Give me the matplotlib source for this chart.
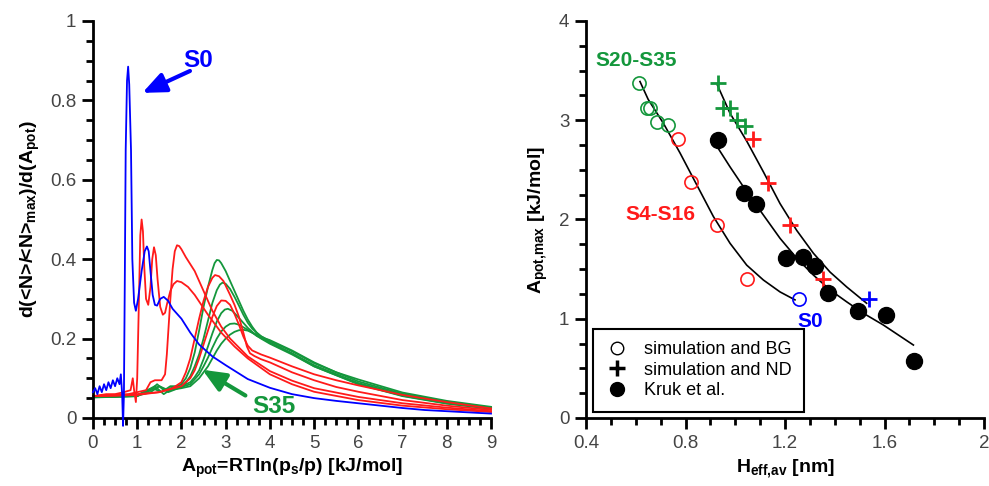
import matplotlib
matplotlib.use('Agg')
import matplotlib.pyplot as plt
from matplotlib.lines import Line2D
from matplotlib.ticker import MultipleLocator, FuncFormatter

plt.rcParams['font.family'] = ['Liberation Sans', 'DejaVu Sans']
plt.rcParams['mathtext.default'] = 'regular'

BLUE = '#0000ff'
RED = '#ff1a1a'
GREEN = '#14973c'
TICKC = '#444444'

# ---- left panel: d(<N>/<N>max)/d(Apot) vs Apot ----
s0_x = [0.0, 0.05, 0.1, 0.15, 0.2, 0.25, 0.3, 0.35, 0.4, 0.45, 0.5, 0.55, 0.6, 0.63, 0.66, 0.68, 0.7,
        0.72, 0.74, 0.77, 0.795, 0.82, 0.86, 0.89, 0.93, 0.97, 1.02, 1.1, 1.17, 1.22, 1.26, 1.3, 1.35, 1.4,
        1.45, 1.52, 1.6, 1.7, 1.8, 2.0, 2.2, 2.4, 2.7, 3.0, 3.5, 4.0, 4.5, 5.0, 5.5, 6.0, 6.5, 7.0, 7.5, 8.0,
        8.5, 9.0]
s0_y = [0.065, 0.075, 0.06, 0.08, 0.065, 0.085, 0.07, 0.09, 0.075, 0.095, 0.08, 0.1, 0.085, 0.11, 0.06, -0.02, 0.06,
        0.35, 0.675, 0.85, 0.885, 0.84, 0.675, 0.4, 0.29, 0.27, 0.3, 0.37, 0.42, 0.432, 0.42, 0.37, 0.31, 0.285,
        0.283, 0.3, 0.305, 0.295, 0.275, 0.25, 0.215, 0.185, 0.155, 0.133, 0.098, 0.076, 0.06, 0.05, 0.043, 0.037,
        0.031, 0.025, 0.02, 0.017, 0.014, 0.011]

r1_x = [0.0, 0.3, 0.5, 0.7, 0.85, 0.9, 0.93, 0.97, 1.0, 1.04, 1.07, 1.1, 1.13, 1.16, 1.2, 1.25, 1.3, 1.34, 1.38,
        1.42, 1.46, 1.52, 1.58, 1.63, 1.68, 1.75, 1.82, 1.9, 2.0, 2.15, 2.3, 2.6, 2.9, 3.2, 3.5, 4.0, 4.5, 5.0,
        6.0, 7.0, 8.0, 9.0]
r1_y = [0.055, 0.06, 0.06, 0.065, 0.07, 0.1, 0.07, 0.04, 0.1, 0.3, 0.46, 0.5, 0.47, 0.38, 0.3, 0.285, 0.33, 0.4, 0.43,
        0.41, 0.35, 0.28, 0.26, 0.265, 0.29, 0.32, 0.337, 0.345, 0.342, 0.33, 0.31, 0.26, 0.215, 0.18, 0.15, 0.11,
        0.085, 0.066, 0.045, 0.031, 0.022, 0.015]

r2_x = [0.0, 0.4, 0.8, 1.0, 1.2, 1.3, 1.4, 1.55, 1.63, 1.67, 1.71, 1.75, 1.8, 1.85, 1.9, 1.95, 2.0, 2.1, 2.3,
        2.5, 2.7, 2.9, 3.1, 3.5, 4.0, 4.5, 5.0, 6.0, 7.0, 8.0, 9.0]
r2_y = [0.055, 0.058, 0.06, 0.065, 0.07, 0.09, 0.095, 0.095, 0.11, 0.16, 0.23, 0.3, 0.375, 0.42, 0.435, 0.433, 0.425,
        0.405, 0.37, 0.32, 0.27, 0.23, 0.2, 0.155, 0.118, 0.094, 0.075, 0.053, 0.037, 0.026, 0.017]

r3_x = [0.0, 0.5, 1.0, 1.5, 1.8, 2.0, 2.1, 2.2, 2.3, 2.4, 2.5, 2.6, 2.7, 2.76, 2.85, 2.95, 3.1, 3.2, 3.3, 3.4,
        3.48, 3.55, 3.65, 3.8, 4.0, 4.5, 5.0, 5.5, 6.0, 7.0, 8.0, 9.0]
r3_y = [0.055, 0.057, 0.06, 0.065, 0.075, 0.09, 0.115, 0.15, 0.2, 0.25, 0.295, 0.33, 0.353, 0.36, 0.357, 0.345, 0.31,
        0.285, 0.255, 0.215, 0.18, 0.163, 0.156, 0.148, 0.14, 0.115, 0.095, 0.078, 0.066, 0.045, 0.031, 0.02]

r4_x = [0.0, 0.5, 1.0, 1.5, 2.0, 2.1, 2.2, 2.3, 2.4, 2.5, 2.6, 2.7, 2.8, 2.9, 3.0, 3.1, 3.2, 3.3, 3.4, 3.5,
        3.6, 3.8, 4.0, 4.5, 5.0, 5.5, 6.0, 7.0, 8.0, 9.0]
r4_y = [0.055, 0.056, 0.058, 0.065, 0.08, 0.09, 0.1, 0.12, 0.15, 0.185, 0.22, 0.255, 0.282, 0.296, 0.295, 0.285, 0.262,
        0.235, 0.205, 0.182, 0.17, 0.16, 0.152, 0.13, 0.11, 0.095, 0.082, 0.058, 0.04, 0.024]

g1_x = [0.0, 0.5, 1.0, 1.3, 1.45, 1.6, 1.9, 2.0, 2.1, 2.2, 2.3, 2.4, 2.5, 2.6, 2.7, 2.75, 2.8, 2.85, 2.9, 3.0,
        3.1, 3.2, 3.3, 3.4, 3.5, 3.6, 3.7, 3.8, 3.9, 4.0, 4.5, 5.0, 5.5, 6.0, 7.0, 8.0, 9.0]
g1_y = [0.052, 0.053, 0.055, 0.07, 0.085, 0.07, 0.08, 0.085, 0.1, 0.125, 0.165, 0.22, 0.28, 0.33, 0.373, 0.39, 0.398,
        0.397, 0.39, 0.37, 0.345, 0.32, 0.295, 0.27, 0.248, 0.23, 0.215, 0.206, 0.2, 0.196, 0.17, 0.14, 0.115, 0.097,
        0.064, 0.043, 0.028]

g2_x = [0.0, 0.5, 1.0, 1.3, 1.5, 1.7, 2.0, 2.1, 2.2, 2.3, 2.4, 2.5, 2.6, 2.7, 2.8, 2.87, 2.93, 3.0, 3.1, 3.2,
        3.3, 3.4, 3.5, 3.6, 3.8, 4.0, 4.5, 5.0, 6.0, 7.0, 8.0, 9.0]
g2_y = [0.053, 0.054, 0.056, 0.065, 0.08, 0.065, 0.078, 0.09, 0.105, 0.13, 0.16, 0.2, 0.245, 0.29, 0.322, 0.336, 0.341,
        0.338, 0.325, 0.305, 0.283, 0.26, 0.24, 0.225, 0.205, 0.194, 0.168, 0.138, 0.092, 0.061, 0.041, 0.026]

g3_x = [0.0, 0.5, 1.0, 1.35, 1.55, 1.75, 2.0, 2.2, 2.3, 2.4, 2.5, 2.6, 2.7, 2.8, 2.9, 2.98, 3.05, 3.15, 3.3,
        3.5, 3.7, 4.0, 4.5, 5.0, 6.0, 7.0, 8.0, 9.0]
g3_y = [0.052, 0.053, 0.055, 0.075, 0.065, 0.08, 0.08, 0.09, 0.103, 0.12, 0.148, 0.18, 0.213, 0.243, 0.264, 0.273, 0.275,
        0.27, 0.252, 0.227, 0.207, 0.19, 0.163, 0.133, 0.088, 0.058, 0.039, 0.025]

g4_x = [0.0, 0.5, 1.0, 1.4, 1.6, 1.8, 2.0, 2.2, 2.4, 2.5, 2.6, 2.7, 2.8, 2.9, 3.0, 3.1, 3.2, 3.3, 3.5, 3.8,
        4.0, 4.5, 5.0, 6.0, 7.0, 8.0, 9.0]
g4_y = [0.054, 0.055, 0.057, 0.08, 0.06, 0.075, 0.078, 0.085, 0.11, 0.13, 0.152, 0.177, 0.2, 0.218, 0.23, 0.237, 0.238,
        0.235, 0.222, 0.2, 0.187, 0.16, 0.13, 0.086, 0.056, 0.037, 0.024]

g5_x = [0.0, 0.5, 1.0, 1.3, 1.5, 1.7, 2.0, 2.2, 2.4, 2.6, 2.7, 2.8, 2.9, 3.0, 3.1, 3.2, 3.3, 3.4, 3.5, 3.8,
        4.0, 4.5, 5.0, 6.0, 7.0, 8.0, 9.0]
g5_y = [0.055, 0.056, 0.058, 0.07, 0.08, 0.07, 0.075, 0.08, 0.1, 0.13, 0.15, 0.17, 0.187, 0.2, 0.21, 0.217, 0.221,
        0.222, 0.22, 0.205, 0.19, 0.162, 0.13, 0.085, 0.055, 0.036, 0.023]

red_curves = [(r1_x, r1_y), (r2_x, r2_y), (r3_x, r3_y), (r4_x, r4_y)]
green_curves = [(g1_x, g1_y), (g2_x, g2_y), (g3_x, g3_y), (g4_x, g4_y), (g5_x, g5_y)]

# ---- right panel: Apot,max vs Heff,av ----
bg_x = [0.614, 0.644, 0.657, 0.687, 0.731, 0.771, 0.821, 0.925, 1.046, 1.256]
bg_y = [3.38, 3.12, 3.12, 2.985, 2.95, 2.81, 2.38, 1.94, 1.40, 1.20]
bg_c = ['g', 'g', 'g', 'g', 'g', 'r', 'r', 'r', 'r', 'b']

nd_x = [0.932, 0.949, 0.979, 1.008, 1.039, 1.073, 1.133, 1.221, 1.352, 1.538]
nd_y = [3.38, 3.12, 3.12, 3.0, 2.94, 2.81, 2.37, 1.94, 1.40, 1.20]
nd_c = ['g', 'g', 'g', 'g', 'g', 'r', 'r', 'r', 'r', 'b']

kruk_x = [0.929, 1.035, 1.082, 1.203, 1.274, 1.321, 1.372, 1.492, 1.606, 1.719]
kruk_y = [2.80, 2.27, 2.16, 1.615, 1.625, 1.53, 1.256, 1.08, 1.04, 0.577]

fit_bg_x = [0.617, 0.65, 0.711, 0.778, 0.845, 0.912, 0.979, 1.046, 1.113, 1.18, 1.24]
fit_bg_y = [3.39, 3.21, 2.97, 2.67, 2.35, 2.03, 1.76, 1.54, 1.39, 1.27, 1.19]
fit_nd_x = [0.928, 0.979, 1.046, 1.113, 1.18, 1.247, 1.314, 1.381, 1.448, 1.528]
fit_nd_y = [3.355, 3.07, 2.79, 2.48, 2.16, 1.89, 1.66, 1.47, 1.32, 1.156]
fit_kr_x = [0.928, 0.979, 1.046, 1.113, 1.18, 1.247, 1.314, 1.381, 1.448, 1.515, 1.595, 1.716]
fit_kr_y = [2.73, 2.53, 2.28, 2.045, 1.81, 1.61, 1.44, 1.29, 1.17, 1.055, 0.937, 0.735]

cmap = {'g': GREEN, 'r': RED, 'b': BLUE}

fig = plt.figure(figsize=(9.89, 4.86), dpi=100)
ax1 = fig.add_axes([0.094, 0.14, 0.4025, 0.8168])
ax2 = fig.add_axes([0.5925, 0.14, 0.4025, 0.8168])

num_fmt = FuncFormatter(lambda v, p: f'{v:g}')


def style_axes(ax):
    for s in ('top', 'right'):
        ax.spines[s].set_visible(False)
    for s in ('left', 'bottom'):
        ax.spines[s].set_linewidth(2)
    ax.tick_params(which='major', direction='out', length=8, width=2, labelsize=13.5, labelcolor=TICKC, pad=4)
    ax.tick_params(which='minor', direction='out', length=5, width=2)


for cx, cy in green_curves:
    ax1.plot(cx, cy, color=GREEN, lw=1.3, clip_on=False)
for cx, cy in red_curves:
    ax1.plot(cx, cy, color=RED, lw=1.3, clip_on=False)
ax1.plot(s0_x, s0_y, color=BLUE, lw=1.3, clip_on=False, zorder=3)

ax1.set_xlim(0, 9)
ax1.set_ylim(0, 1)
ax1.xaxis.set_major_locator(MultipleLocator(1))
ax1.xaxis.set_minor_locator(MultipleLocator(0.25))
ax1.yaxis.set_major_locator(MultipleLocator(0.2))
ax1.yaxis.set_minor_locator(MultipleLocator(0.05))
ax1.yaxis.set_major_formatter(num_fmt)
style_axes(ax1)
ax1.set_xlabel(r'A$_{pot}$=RTln(p$_s$/p) [kJ/mol]', fontsize=14, fontweight='bold')
ax1.set_ylabel(r'd(<N>/<N>$_{max}$)/d(A$_{pot}$)', fontsize=14, fontweight='bold', labelpad=6)

ax1.annotate('', xy=(1.06, 0.816), xytext=(2.25, 0.877),
             arrowprops=dict(arrowstyle='-|>,head_length=1.4,head_width=0.6', color=BLUE, lw=3))
ax1.text(2.38, 0.9, 'S0', color=BLUE, fontsize=17.5, fontweight='bold', ha='center', va='center')
ax1.annotate('', xy=(2.42, 0.125), xytext=(3.5, 0.053),
             arrowprops=dict(arrowstyle='-|>,head_length=1.4,head_width=0.6', color=GREEN, lw=3))
ax1.text(4.08, 0.03, 'S35', color=GREEN, fontsize=17.5, fontweight='bold', ha='center', va='center')

# right panel
ax2.plot(fit_bg_x, fit_bg_y, color='black', lw=1.2)
ax2.plot(fit_nd_x, fit_nd_y, color='black', lw=1.2)
ax2.plot(fit_kr_x, fit_kr_y, color='black', lw=1.2)
for x, y, c in zip(bg_x, bg_y, bg_c):
    ax2.plot(x, y, 'o', ms=9.5, mfc='none', mec=cmap[c], mew=1.2)
for x, y, c in zip(nd_x, nd_y, nd_c):
    ax2.plot(x, y, '+', ms=12, mec=cmap[c], mew=2)
ax2.plot(kruk_x, kruk_y, 'o', ms=11.5, color='black')

ax2.set_xlim(0.4, 2)
ax2.set_ylim(0, 4)
ax2.xaxis.set_major_locator(MultipleLocator(0.4))
ax2.xaxis.set_minor_locator(MultipleLocator(0.1))
ax2.yaxis.set_major_locator(MultipleLocator(1))
ax2.yaxis.set_minor_locator(MultipleLocator(0.25))
ax2.xaxis.set_major_formatter(num_fmt)
style_axes(ax2)
ax2.set_xlabel(r'H$_{eff{,}av}$ [nm]', fontsize=14, fontweight='bold')
ax2.set_ylabel(r'A$_{pot{,}max}$ [kJ/mol]', fontsize=14, fontweight='bold', labelpad=6)

ax2.text(0.6, 3.6, 'S20-S35', color=GREEN, fontsize=15, fontweight='bold', ha='center', va='center')
ax2.text(0.7, 2.05, 'S4-S16', color=RED, fontsize=15, fontweight='bold', ha='center', va='center')
ax2.text(1.3, 0.97, 'S0', color=BLUE, fontsize=15, fontweight='bold', ha='center', va='center')

handles = [
    Line2D([], [], ls='none', marker='o', ms=9, mfc='none', mec='black', mew=1),
    Line2D([], [], ls='none', marker='+', ms=11, mec='black', mew=2.5),
    Line2D([], [], ls='none', marker='o', ms=10, color='black'),
]
leg = ax2.legend(handles, ['simulation and BG', 'simulation and ND', 'Kruk et al.'],
                 loc='lower left', bbox_to_anchor=(0.018, 0.015), fontsize=13, frameon=True,
                 fancybox=False, edgecolor='black', framealpha=1, handletextpad=0.9,
                 borderpad=0.7, labelspacing=0.2, handlelength=1.2, borderaxespad=0)
leg.get_frame().set_linewidth(1.5)

fig.savefig('out.png', dpi=100)
